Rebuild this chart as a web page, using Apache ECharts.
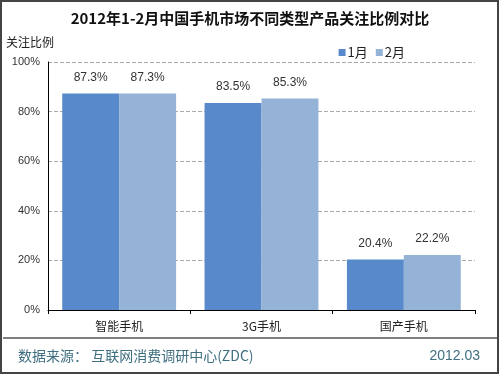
<!DOCTYPE html>
<html>
<head>
<meta charset="utf-8">
<script src="https://cdn.jsdelivr.net/npm/echarts@6/dist/echarts.min.js"></script>
<style>
html, body { margin: 0; padding: 0; background: #fff; }
#chart-container { width: 500px; height: 375px; }
</style>
</head>
<body>
<div id="chart-container"></div>
<script>
const categories = ["智能手机", "3G手机", "国产手机"];
const janValues = [87.3, 83.5, 20.4];
const febValues = [87.3, 85.3, 22.2];
const seriesNames = ["1月", "2月"];

let dom = document.getElementById("chart-container");
let myChart = echarts.init(dom, null, { renderer: "canvas" });

const fontCn = "'Noto Sans CJK SC', sans-serif";

let option = {
    animation: false,
    title: {
        text: "2012年1-2月中国手机市场不同类型产品关注比例对比",
        left: "center",
        top: 6,
        textStyle: { fontSize: 15, fontWeight: "bold", color: "#111", fontFamily: fontCn },
    },
    legend: {
        data: seriesNames,
        right: 90,
        top: 41,
        itemWidth: 7,
        itemHeight: 7,
        itemGap: 8,
        icon: "rect",
        textStyle: { fontSize: 13, color: "#222", fontFamily: fontCn, padding: [0, 0, 0, -3] },
    },
    grid: { left: 48, right: 25, top: 62, bottom: 65 },
    xAxis: {
        type: "category",
        data: categories,
        axisLine: { lineStyle: { color: "#000", width: 1 } },
        axisTick: { show: true, length: 4, lineStyle: { color: "#000" } },
        axisLabel: { fontSize: 12, color: "#222", margin: 10, fontFamily: fontCn },
    },
    yAxis: {
        type: "value",
        min: 0,
        max: 100,
        interval: 20,
        name: "关注比例",
        nameLocation: "end",
        nameGap: 14,
        nameTextStyle: { fontSize: 12, color: "#222", align: "left", padding: [0, 0, 0, -42], fontFamily: fontCn },
        axisLine: { show: true, lineStyle: { color: "#000", width: 1 } },
        axisTick: { show: false },
        axisLabel: { formatter: "{value}%", fontSize: 11, color: "#333", margin: 8 },
        splitLine: { lineStyle: { color: "#aaa", type: "dashed" } },
    },
    series: [
        {
            name: seriesNames[0],
            type: "bar",
            data: janValues,
            barGap: "0%",
            barCategoryGap: "20%",
            itemStyle: { color: "#5889ca" },
            label: { show: true, position: "top", distance: 10, formatter: "{c}%", fontSize: 12, color: "#333" },
        },
        {
            name: seriesNames[1],
            type: "bar",
            data: febValues,
            itemStyle: { color: "#95b3d7" },
            label: { show: true, position: "top", distance: 10, formatter: "{c}%", fontSize: 12, color: "#333" },
        },
    ],
    graphic: [
        {
            type: "rect",
            shape: { x: 1, y: 1, width: 497, height: 372 },
            style: { fill: "none", stroke: "#444", lineWidth: 2 },
            silent: true,
        },
        {
            type: "line",
            shape: { x1: 3, y1: 338, x2: 497, y2: 338 },
            style: { stroke: "#000", lineWidth: 1 },
        },
        {
            type: "text",
            left: 18,
            top: 349,
            style: { text: "数据来源： 互联网消费调研中心(ZDC)", fontSize: 14, fill: "#3f6f80", fontFamily: fontCn },
        },
        {
            type: "text",
            right: 20,
            top: 349,
            style: { text: "2012.03", fontSize: 14, fill: "#3f6f80" },
        },
    ],
};

myChart.setOption(option);
window.addEventListener("resize", myChart.resize);
</script>
</body>
</html>
